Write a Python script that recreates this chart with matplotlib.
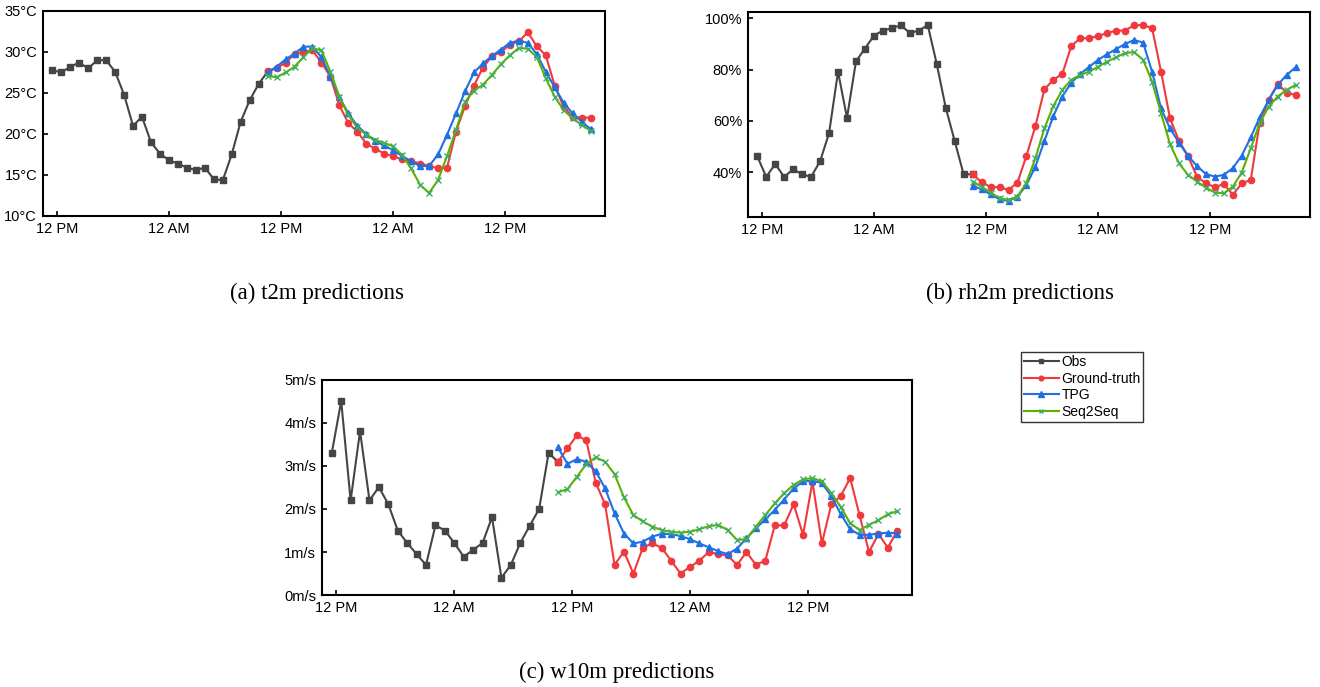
import numpy as np
import matplotlib
matplotlib.use("Agg")
import matplotlib.pyplot as plt

# ---- data (one sample every step, obs = 25 steps, forecasts = 37 steps) ----
obs_start = 0
fc_start = 24

t2m_obs = [27.8, 27.5, 28.2, 28.7, 28.0, 29.0, 29.0, 27.6, 24.8, 21.0, 22.1, 19.0, 17.6,
           16.8, 16.4, 15.9, 15.6, 15.9, 14.5, 14.35, 17.5, 21.5, 24.1, 26.1, 27.6]
t2m_gt = [27.7, 28.0, 28.7, 29.75, 30.0, 30.2, 28.7, 27.0, 23.5, 21.3, 20.3, 18.8, 18.2,
          17.6, 17.3, 16.9, 16.7, 16.4, 16.1, 15.8, 15.9, 20.3, 23.4, 25.9, 28.1, 29.5,
          30.0, 30.9, 31.3, 32.4, 30.7, 29.6, 25.9, 23.3, 22.1, 22.0, 22.0]
t2m_tpg = [27.5, 28.2, 29.1, 29.8, 30.65, 30.65, 29.35, 27.0, 24.5, 22.5, 21.0, 20.0, 19.1,
           18.6, 18.0, 17.3, 16.7, 16.1, 16.1, 17.5, 19.9, 22.5, 25.2, 27.5, 28.6, 29.5,
           30.3, 31.1, 31.4, 31.1, 29.75, 27.6, 25.7, 23.8, 22.5, 21.5, 20.6]
t2m_s2s = [27.1, 26.9, 27.5, 28.2, 29.4, 30.45, 30.2, 27.6, 24.55, 22.3, 20.8, 19.9, 19.3,
           18.9, 18.5, 17.4, 15.8, 13.8, 12.8, 14.4, 17.3, 20.5, 23.9, 25.3, 26.0, 27.2,
           28.5, 29.6, 30.5, 30.4, 29.4, 26.8, 24.55, 22.9, 21.9, 21.1, 20.4]

rh_obs = [46.2, 38.2, 43.2, 38.2, 41.2, 39.2, 38.2, 44.3, 55.2, 79.2, 61.2, 83.2, 88.2,
          93.2, 95.2, 96.1, 97.3, 94.2, 95.2, 97.3, 82.2, 65.2, 52.2, 39.2, 39.2]
rh_gt = [39.2, 36.2, 34.2, 34.2, 33.1, 36.0, 46.4, 58.0, 72.3, 76.0, 78.3, 89.2, 92.2,
         92.2, 93.1, 94.2, 95.2, 95.2, 97.3, 97.3, 96.2, 79.2, 61.0, 52.2, 46.4, 38.3,
         35.7, 34.2, 35.45, 31.2, 35.7, 37.0, 59.3, 68.2, 74.4, 71.0, 70.1]
rh_tpg = [34.7, 33.4, 31.4, 29.5, 28.8, 30.5, 35.1, 42.2, 52.2, 61.9, 69.5, 74.9, 78.3,
          81.1, 83.8, 86.0, 88.0, 90.0, 91.5, 90.5, 79.2, 64.9, 57.1, 51.5, 46.4, 42.5,
          39.3, 38.3, 39.0, 41.6, 46.5, 53.6, 61.4, 68.2, 74.0, 77.9, 80.9]
rh_s2s = [36.4, 34.4, 32.1, 29.9, 29.2, 30.5, 36.0, 45.5, 57.1, 65.8, 72.1, 76.0, 77.9,
          79.2, 81.1, 83.1, 84.8, 86.4, 86.8, 83.8, 75.3, 63.0, 51.0, 43.5, 39.0, 36.4,
          34.0, 32.1, 31.8, 34.4, 39.9, 49.4, 59.1, 65.6, 69.5, 72.1, 74.0]

w_obs = [3.30, 4.51, 2.20, 3.81, 2.20, 2.51, 2.11, 1.50, 1.21, 0.95, 0.70, 1.62, 1.50,
         1.21, 0.89, 1.05, 1.21, 1.81, 0.40, 0.70, 1.21, 1.61, 2.00, 3.30, 3.10]
w_gt = [3.10, 3.41, 3.71, 3.60, 2.61, 2.11, 0.70, 1.01, 0.50, 1.10, 1.20, 1.10, 0.80,
        0.50, 0.65, 0.80, 1.00, 0.95, 0.92, 0.70, 1.00, 0.70, 0.80, 1.62, 1.62, 2.11,
        1.40, 2.63, 1.20, 2.11, 2.30, 2.72, 1.85, 1.00, 1.42, 1.10, 1.50]
w_tpg = [3.43, 3.05, 3.16, 3.10, 2.88, 2.48, 1.90, 1.43, 1.20, 1.24, 1.36, 1.42, 1.42,
         1.37, 1.30, 1.20, 1.11, 1.02, 0.95, 1.08, 1.32, 1.55, 1.76, 1.98, 2.22, 2.48,
         2.64, 2.66, 2.60, 2.30, 1.88, 1.53, 1.40, 1.40, 1.43, 1.45, 1.43]
w_s2s = [2.39, 2.46, 2.75, 3.04, 3.20, 3.10, 2.81, 2.27, 1.86, 1.71, 1.59, 1.51, 1.47,
         1.45, 1.47, 1.53, 1.60, 1.63, 1.51, 1.28, 1.30, 1.59, 1.86, 2.13, 2.37, 2.56,
         2.69, 2.72, 2.64, 2.37, 2.05, 1.67, 1.51, 1.63, 1.74, 1.88, 1.95]

tick_pos = [0.5, 13.0, 25.5, 38.0, 50.5]
tick_lbl = ["12 PM", "12 AM", "12 PM", "12 AM", "12 PM"]

C_OBS = "#454545"
C_GT = "#F0393D"
C_TPG = "#1F6FE5"
C_S2S = "#5CB000"
C_S2S_MK = "#3DAE6A"

plt.rcParams['font.family'] = ['Liberation Sans', 'DejaVu Sans']

fig = plt.figure(figsize=(13.2, 6.87), dpi=100)


def draw(ax, obs, gt, tpg, s2s, ylim, yticks, fmt):
    xo = np.arange(len(obs)) + obs_start
    xf = np.arange(len(gt)) + fc_start
    ax.plot(xo, obs, '-s', color=C_OBS, lw=1.5, ms=4, label="Obs")
    ax.plot(xf, gt, '-o', color=C_GT, lw=1.5, ms=4.5, label="Ground-truth")
    ax.plot(xf, tpg, '-^', color=C_TPG, lw=1.5, ms=5, label="TPG")
    ax.plot(xf, s2s, '-x', color=C_S2S, lw=1.5, ms=4.5, mec=C_S2S_MK, mew=1.0,
            label="Seq2Seq")
    ax.set_xlim(-1.0, 61.6)
    ax.set_ylim(*ylim)
    ax.set_xticks(tick_pos)
    ax.set_xticklabels(tick_lbl)
    ax.set_yticks(yticks)
    ax.set_yticklabels([fmt % v for v in yticks])
    ax.tick_params(direction='in', length=3.5, width=1.2, labelsize=10.5, pad=4.5,
                   colors='black')
    for s in ax.spines.values():
        s.set_linewidth(1.5)
    return ax


ax1 = fig.add_axes([0.0328, 0.6856, 0.4255, 0.2984])
draw(ax1, t2m_obs, t2m_gt, t2m_tpg, t2m_s2s, (10, 35), [10, 15, 20, 25, 30, 35], "%d°C")

ax2 = fig.add_axes([0.5669, 0.6846, 0.4255, 0.2975])
draw(ax2, rh_obs, rh_gt, rh_tpg, rh_s2s, (22.7, 102.3), [40, 60, 80, 100], "%d%%")

ax3 = fig.add_axes([0.2442, 0.1339, 0.4470, 0.3130])
draw(ax3, w_obs, w_gt, w_tpg, w_s2s, (0, 5), [0, 1, 2, 3, 4, 5], "%dm/s")

# captions
cap = dict(fontsize=16.5, family=['Liberation Serif', 'DejaVu Serif'], ha='center', va='center')
fig.text(317 / 1320, 1 - 293 / 687, "(a) t2m predictions", **cap)
fig.text(1020 / 1320, 1 - 293 / 687, "(b) rh2m predictions", **cap)
fig.text(617 / 1320, 1 - 672 / 687, "(c) w10m predictions", **cap)

h, l = ax3.get_legend_handles_labels()
leg = fig.legend(h, l, loc='upper left', bbox_to_anchor=(1021 / 1320, 1 - 352 / 687),
                 fontsize=10, frameon=True, fancybox=False, edgecolor='black',
                 handlelength=2.5, handletextpad=0.2, borderpad=0.2, labelspacing=0.2,
                 borderaxespad=0, markerscale=0.75)
leg.get_frame().set_linewidth(1.0)

fig.savefig("out.png", dpi=100)
